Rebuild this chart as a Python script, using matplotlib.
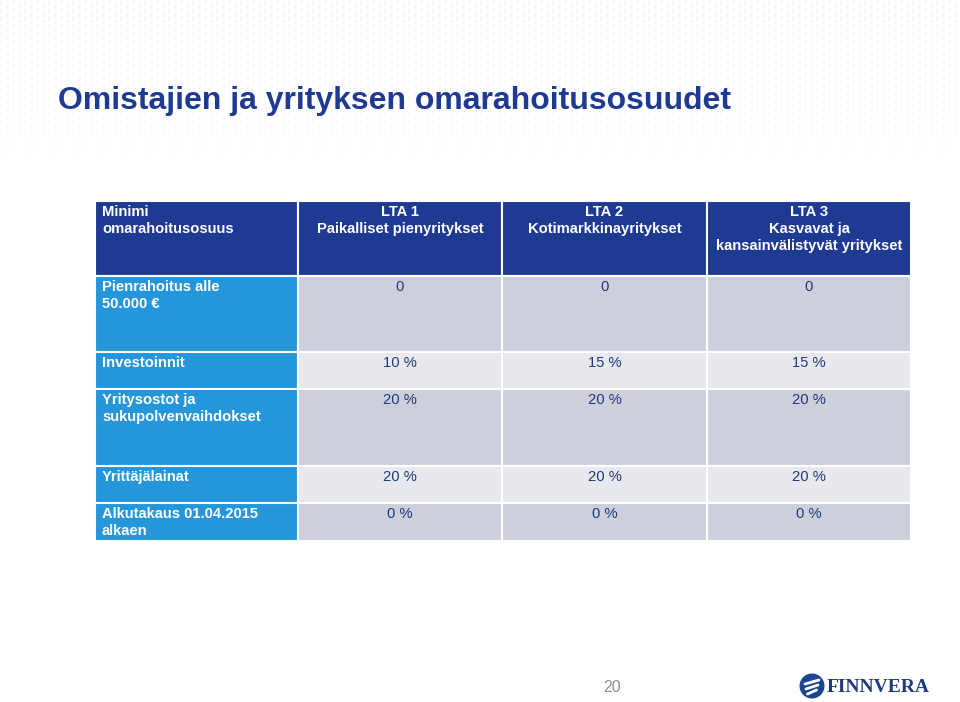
import matplotlib.pyplot as plt
import numpy as np
from matplotlib.patches import Rectangle, Circle

# table content
header_corner = "Minimi\nomarahoitusosuus"
column_headers = [
    "LTA 1\nPaikalliset pienyritykset",
    "LTA 2\nKotimarkkinayritykset",
    "LTA 3\nKasvavat ja\nkansainvälistyvät yritykset",
]
row_labels = [
    "Pienrahoitus alle\n50.000 €",
    "Investoinnit",
    "Yritysostot ja\nsukupolvenvaihdokset",
    "Yrittäjälainat",
    "Alkutakaus 01.04.2015\nalkaen",
]
lta1 = ["0", "10 %", "20 %", "20 %", "0 %"]
lta2 = ["0", "15 %", "20 %", "20 %", "0 %"]
lta3 = ["0", "15 %", "20 %", "20 %", "0 %"]

title = "Omistajien ja yrityksen omarahoitusosuudet"
page_no = "20"

# layout in pixels
col_edges = [95, 298, 502, 707, 911]
row_edges = [201, 276, 352, 389, 466, 503, 541]

DARK = "#1e3a93"
BRIGHT = "#2596d9"
GRAY_D = "#cdd0dc"
GRAY_L = "#e8e9ee"
VAL = "#1f3a7a"

plt.rcParams["font.family"] = ["Liberation Sans", "DejaVu Sans"]

fig = plt.figure(figsize=(9.6, 7.02), dpi=100)
ax = fig.add_axes([0, 0, 1, 1])
ax.set_xlim(0, 960)
ax.set_ylim(702, 0)
ax.axis("off")

# faint dotted background near the top
yy, xx = np.mgrid[0:240, 0:960]
dots = ((xx % 6 < 3) & ((yy + 4 * ((xx // 6) % 2)) % 8 < 5)).astype(float)
fade = np.clip(1 - yy / 200.0, 0, 1)
bg = 1 - 0.035 * dots * fade
ax.imshow(bg, cmap="gray", vmin=0, vmax=1, extent=(0, 960, 240, 0),
          interpolation="nearest", zorder=0)

ax.text(58, 101, title, fontsize=23, fontweight="bold", color=DARK,
        va="center", ha="left")


def cell(x0, x1, y0, y1, fc):
    ax.add_patch(Rectangle((x0, y0), x1 - x0, y1 - y0, facecolor=fc,
                           edgecolor="white", linewidth=1.5, zorder=2))


def cell_text(x, y_top, s, color, ha, weight="normal"):
    lines = s.split("\n")
    for i, line in enumerate(lines):
        ax.text(x, y_top + 15 + 17 * i, line, fontsize=10.6, color=color,
                ha=ha, va="baseline", fontweight=weight, zorder=3)


# header row
for c in range(4):
    cell(col_edges[c], col_edges[c + 1], row_edges[0], row_edges[1], DARK)
cell_text(col_edges[0] + 7, row_edges[0], header_corner, "white", "left", "bold")
for c, h in enumerate(column_headers):
    xc = (col_edges[c + 1] + col_edges[c + 2]) / 2
    cell_text(xc, row_edges[0], h, "white", "center", "bold")

# body rows
values = [lta1, lta2, lta3]
for r, label in enumerate(row_labels):
    y0, y1 = row_edges[r + 1], row_edges[r + 2]
    fc = GRAY_D if r % 2 == 0 else GRAY_L
    cell(col_edges[0], col_edges[1], y0, y1, BRIGHT)
    cell_text(col_edges[0] + 7, y0, label, "white", "left", "bold")
    for c in range(3):
        cell(col_edges[c + 1], col_edges[c + 2], y0, y1, fc)
        xc = (col_edges[c + 1] + col_edges[c + 2]) / 2
        cell_text(xc, y0, values[c][r], VAL, "center")

# footer
ax.text(612, 687, page_no, fontsize=11.5, color="#8a8f9e", ha="center", va="center")
ax.add_patch(Circle((812, 686), 12.5, facecolor="#1d4592", edgecolor="none", zorder=3))
for dy, w in [(-4, 14), (1, 12), (6, 9)]:
    ax.plot([812 - w / 2, 812 + w / 2], [686 + dy + 2, 686 + dy - 2],
            color="white", lw=2, solid_capstyle="round", zorder=4)
ax.text(827, 687, "FINNVERA", fontsize=14, fontweight="bold", color="#1d3a7e",
        ha="left", va="center", family=["Liberation Serif", "DejaVu Serif"])

fig.savefig("out.png", dpi=100)
